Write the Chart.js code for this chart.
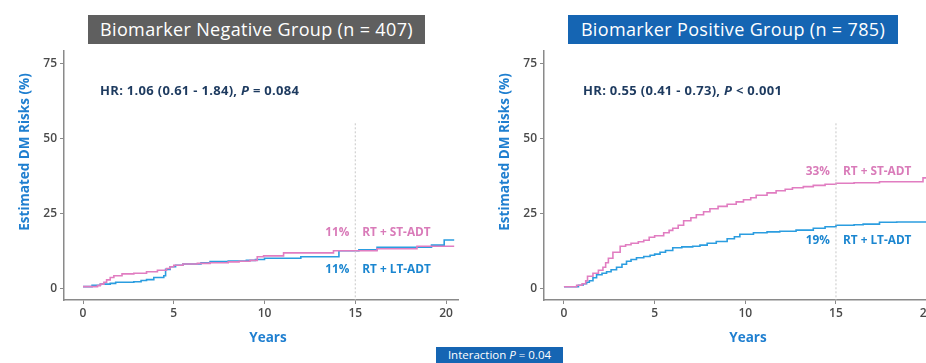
<!DOCTYPE html>
<html>
<head>
<meta charset="utf-8">
<script src="https://cdn.jsdelivr.net/npm/chart.js@4.4.0/dist/chart.umd.min.js"></script>
<style>
  html, body { margin:0; padding:0; background:#fff; width:926px; height:363px; overflow:hidden; }
  #wrap { position:relative; width:926px; height:363px; overflow:hidden; font-family:"Open Sans", sans-serif; }
  canvas { position:absolute; top:0; }
  .tbox { position:absolute; top:15px; height:29px; line-height:29px; color:#fff; font-size:18px; font-weight:500; letter-spacing:0.35px; text-align:center; white-space:nowrap; }
  .hr { position:absolute; top:81px; font-size:13px; font-weight:700; letter-spacing:0.3px; color:#1d3a5f; white-space:nowrap; }
  .ibox { position:absolute; left:436px; top:347px; width:127px; height:17px; line-height:16px; background:#1565b3; color:#fff; font-size:11.5px; text-align:center; white-space:nowrap; }
</style>
</head>
<body>
<div id="wrap">
  <canvas id="cNeg" width="463" height="363" style="left:0px"></canvas>
  <canvas id="cPos" width="480" height="363" style="left:463px"></canvas>
  <div class="tbox" style="left:88px;width:337px;background:#5f5f5f">Biomarker Negative Group (n = 407)</div>
  <div class="tbox" style="left:568px;width:330px;background:#1565b3">Biomarker Positive Group (n = 785)</div>
  <div class="hr" style="left:100px">HR: 1.06 (0.61 - 1.84), <i>P</i> = 0.084</div>
  <div class="hr" style="left:583px">HR: 0.55 (0.41 - 0.73), <i>P</i> &lt; 0.001</div>
  <div class="ibox">Interaction <i>P</i> = 0.04</div>
</div>
<script>
// ---- data (years, estimated DM risk %) ----
const xTicks = [0, 5, 10, 15, 20];
const yTicks = [0, 25, 50, 75];

const negST_t = [0, 0.8, 0.95, 1.15, 1.3, 1.5, 1.7, 2.15, 2.8, 3.5, 4.1, 4.6, 4.8, 5.0, 5.5, 6.3, 7.0, 8.0, 8.6, 9.2, 9.6, 9.95, 11.05, 13.8, 16.2, 18.4, 20.45];
const negST_v = [0.55, 0.9, 1.4, 2.0, 2.8, 3.6, 4.2, 4.8, 5.0, 5.5, 6.0, 6.6, 7.2, 7.7, 8.1, 8.3, 8.5, 8.8, 9.0, 9.3, 10.5, 10.8, 11.8, 12.5, 13.2, 14.0, 14.0];

const negLT_t = [0, 0.5, 0.96, 1.5, 1.8, 2.8, 3.2, 3.5, 3.9, 4.45, 4.55, 4.8, 5.1, 5.5, 6.5, 7.0, 8.0, 9.0, 9.5, 10.0, 12.0, 14.1, 15.2, 16.2, 19.2, 19.9, 20.45];
const negLT_v = [0.55, 1.0, 1.4, 1.65, 2.0, 2.2, 2.6, 2.9, 3.6, 4.2, 6.3, 7.2, 7.7, 8.1, 8.5, 8.9, 9.1, 9.3, 9.6, 10.0, 10.5, 12.5, 12.8, 13.7, 14.4, 16.1, 16.1];

const posST_t = [0, 0.7, 1.0, 1.2, 1.3, 1.6, 1.9, 2.15, 2.3, 2.45, 2.7, 3.1, 3.4, 3.7, 4.1, 4.4, 4.7, 5.0, 5.5, 5.8, 6.0, 6.3, 6.6, 7.0, 7.3, 7.7, 8.05, 8.5, 9.0, 9.5, 9.9, 10.3, 10.6, 11.2, 11.7, 12.2, 12.6, 13.2, 13.75, 14.4, 15.0, 16.0, 17.4, 19.8, 20.7];
const posST_v = [0.5, 1.0, 1.5, 2.5, 4.0, 5.0, 6.0, 7.0, 8.5, 10.0, 12.0, 14.0, 14.5, 15.0, 15.5, 16.0, 17.0, 17.5, 18.5, 19.3, 20.0, 21.0, 22.5, 23.5, 24.5, 25.5, 26.5, 27.3, 28.0, 28.8, 29.5, 30.2, 31.0, 31.8, 32.5, 33.0, 33.5, 33.9, 34.3, 34.7, 35.0, 35.2, 35.5, 36.8, 36.8];

const posLT_t = [0, 0.8, 1.05, 1.25, 1.4, 1.6, 1.8, 2.1, 2.35, 2.6, 2.9, 3.2, 3.45, 3.7, 4.0, 4.4, 4.75, 5.0, 5.3, 5.6, 6.0, 6.5, 7.1, 7.5, 7.9, 8.4, 9.0, 9.4, 9.7, 10.45, 11.2, 11.9, 12.8, 13.75, 14.4, 15.0, 16.0, 16.5, 17.4, 18.35, 20.7];
const posLT_v = [0.5, 1.0, 1.5, 2.0, 2.5, 3.5, 4.5, 5.0, 5.5, 6.2, 7.0, 8.0, 9.0, 9.6, 10.2, 10.6, 11.0, 11.4, 12.0, 12.6, 13.5, 13.8, 14.0, 14.4, 15.0, 15.6, 16.5, 17.2, 18.0, 18.5, 18.8, 19.0, 19.4, 20.0, 20.5, 21.0, 21.2, 21.4, 22.0, 22.1, 22.3];

// end-of-curve labels at 15 years
const negLabels = { stPct: "11%", ltPct: "11%" };
const posLabels = { stPct: "33%", ltPct: "19%" };
const armST = "RT + ST-ADT";
const armLT = "RT + LT-ADT";

// ---- styling ----
const PINK = "#e17dc1";
const BLUE = "#2b9de0";
const PINK_TXT = "#d97bb9";
const BLUE_TXT = "#1b86d0";
const AXIS = "#8a8a8a";
const TICK_TXT = "#4a4a4a";
const FONT = "'Open Sans', sans-serif";

function pts(t, v) { return t.map((x, i) => ({ x: x, y: v[i] })); }

function overlay(labels, stY, ltY) {
  return {
    id: 'overlay',
    afterDraw(chart) {
      const ctx = chart.ctx, xs = chart.scales.x, ys = chart.scales.y, ca = chart.chartArea;
      ctx.save();
      // dotted reference line at 15 years
      const x15 = xs.getPixelForValue(15);
      ctx.strokeStyle = "#c8c8c8"; ctx.lineWidth = 1; ctx.setLineDash([2, 2]);
      ctx.beginPath(); ctx.moveTo(x15, ys.getPixelForValue(55)); ctx.lineTo(x15, ca.bottom); ctx.stroke();
      ctx.setLineDash([]);
      // end labels
      ctx.font = "700 11.8px " + FONT; ctx.textBaseline = "middle";
      ctx.fillStyle = PINK_TXT;
      ctx.textAlign = "right"; ctx.fillText(labels.stPct, x15 - 6, ys.getPixelForValue(stY));
      ctx.textAlign = "left"; ctx.fillText(armST, x15 + 7, ys.getPixelForValue(stY));
      ctx.fillStyle = BLUE_TXT;
      ctx.textAlign = "right"; ctx.fillText(labels.ltPct, x15 - 6, ys.getPixelForValue(ltY));
      ctx.textAlign = "left"; ctx.fillText(armLT, x15 + 7, ys.getPixelForValue(ltY));
      // axis titles
      ctx.fillStyle = "#1f7fd0";
      ctx.font = "700 13.5px " + FONT; ctx.textAlign = "center";
      ctx.fillText("Years", ca.left + 204, 338);
      ctx.save();
      ctx.translate(ca.left - 39, 152);
      ctx.rotate(-Math.PI / 2);
      ctx.fillText("Estimated DM Risks (%)", 0, 0);
      ctx.restore();
      ctx.restore();
    }
  };
}

function makeChart(id, st_t, st_v, lt_t, lt_v, xmin, xmax, padLeft, padRight, labels, stY, ltY) {
  return new Chart(document.getElementById(id), {
    type: 'line',
    data: {
      datasets: [
        { label: armST, data: pts(st_t, st_v), borderColor: PINK, borderWidth: 1.6, stepped: true, pointRadius: 0, fill: false },
        { label: armLT, data: pts(lt_t, lt_v), borderColor: BLUE, borderWidth: 1.6, stepped: true, pointRadius: 0, fill: false }
      ]
    },
    options: {
      responsive: false, animation: false, devicePixelRatio: 1,
      layout: { padding: { left: padLeft, right: padRight, top: 50.4, bottom: 0 } },
      plugins: { legend: { display: false }, tooltip: { enabled: false } },
      scales: {
        x: {
          type: 'linear', min: xmin, max: xmax,
          afterBuildTicks: s => { s.ticks = xTicks.map(v => ({ value: v })); },
          afterFit: s => { s.height = 63; },
          grid: { drawOnChartArea: false, drawTicks: true, tickLength: 4, color: AXIS, lineWidth: 1 },
          border: { color: AXIS, width: 1.5 },
          ticks: { color: TICK_TXT, font: { family: FONT, size: 12, weight: '600' }, padding: 2, maxRotation: 0 }
        },
        y: {
          type: 'linear', min: -3.9, max: 79.3,
          afterBuildTicks: s => { s.ticks = yTicks.map(v => ({ value: v })); },
          afterFit: s => { s.width = 64; },
          grid: { drawOnChartArea: false, drawTicks: true, tickLength: 4, color: AXIS, lineWidth: 1 },
          border: { color: AXIS, width: 1.5 },
          ticks: { color: TICK_TXT, font: { family: FONT, size: 12, weight: '600' }, padding: 3 }
        }
      }
    },
    plugins: [overlay(labels, stY, ltY)]
  });
}

makeChart('cNeg', negST_t, negST_v, negLT_t, negLT_v, -1.047, 20.66, 0, 5, negLabels, 18.4, 6.1);
makeChart('cPos', posST_t, posST_v, posLT_t, posLT_v, -1.10, 20.66, 17, 4.4, posLabels, 38.8, 15.8);
</script>
</body>
</html>
